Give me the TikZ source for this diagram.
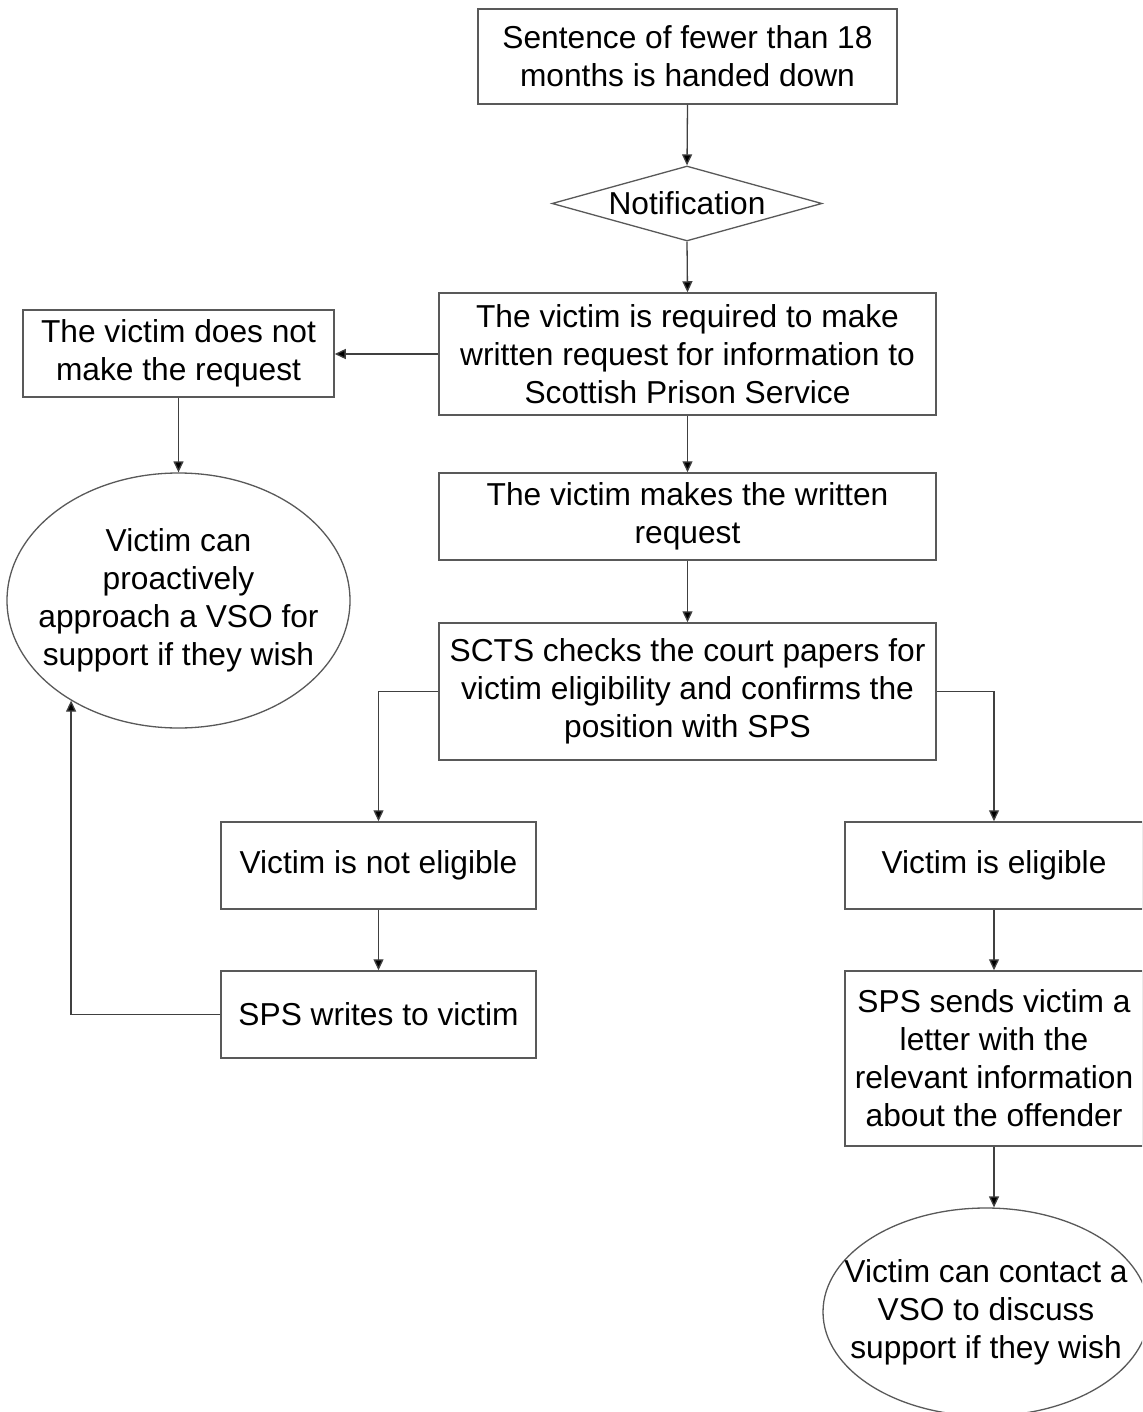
\documentclass[tikz,border=0pt]{standalone}
\usepackage{fontspec}
\setmainfont{Liberation Sans}
\usetikzlibrary{shapes.geometric,arrows.meta}
\begin{document}
\begin{tikzpicture}[x=1pt,y=-1pt,
  every node/.style={font=\fontsize{31.7pt}{38pt}\selectfont, align=center, inner sep=0pt},
  stepbox/.style={draw=black!65, line width=1.5pt, rectangle},
  oval/.style={draw=black!65, line width=1.3pt, ellipse},
  decision/.style={draw=black!65, line width=1.3pt, diamond},
  conn/.style={draw=black!75, line width=1.3pt, -{Triangle[length=11pt,width=10pt,fill=black]}}
]
\useasboundingbox (0,0) rectangle (1142,1412);
\clip (0,0) rectangle (1142,1412);
\fill[white] (0,0) rectangle (1142,1412);

\node[stepbox, minimum width=419pt, minimum height=95pt] (sent) at (687.5,56.5)
  {Sentence of fewer than 18\\months is handed down};
\node[decision, minimum width=270pt, minimum height=75pt] (notif) at (687,203.5)
  {\makebox[0pt]{Notification}};
\node[stepbox, minimum width=497pt, minimum height=122pt] (req) at (687.5,354)
  {The victim is required to make\\written request for information to\\Scottish Prison Service};
\node[stepbox, minimum width=311pt, minimum height=87pt] (dn) at (178.5,353.5)
  {The victim does not\\make the request};
\node[oval, minimum width=343pt, minimum height=255pt] (ellL) at (178.5,600.5)
  {\makebox[0pt]{\parbox{320pt}{\centering Victim can\\proactively\\approach a VSO for\\support if they wish}}};
\node[stepbox, minimum width=497pt, minimum height=87pt] (makes) at (687.5,516.5)
  {The victim makes the written\\request};
\node[stepbox, minimum width=497pt, minimum height=137pt] (scts) at (687.5,691.5)
  {SCTS checks the court papers for\\victim eligibility and confirms the\\position with SPS};
\node[stepbox, minimum width=315pt, minimum height=87pt] (nel) at (378.5,865.5)
  {Victim is not eligible};
\node[stepbox, minimum width=315pt, minimum height=87pt] (spsw) at (378.5,1014.5)
  {SPS writes to victim};
\node[stepbox, minimum width=298pt, minimum height=87pt] (el) at (994,865.5)
  {Victim is eligible};
\node[stepbox, minimum width=298pt, minimum height=175pt] (sends) at (994,1058.5)
  {SPS sends victim a\\letter with the\\relevant information\\about the offender};
\node[oval, minimum width=326pt, minimum height=208pt] (ellR) at (986,1312)
  {\makebox[0pt]{\parbox{320pt}{\centering Victim can contact a\\VSO to discuss\\support if they wish}}};

\draw[conn] (sent.south) -- (notif.north);
\draw[conn] (notif.south) -- (req.north);
\draw[conn] (req.west) -- (req.west -| dn.east);
\draw[conn] (dn.south) -- (ellL.north);
\draw[conn] (req.south) -- (makes.north);
\draw[conn] (makes.south) -- (scts.north);
\draw[conn] (scts.west) -| (nel.north);
\draw[conn] (scts.east) -| (el.north);
\draw[conn] (nel.south) -- (spsw.north);
\draw[conn] (spsw.west) -| (ellL.223.6);
\draw[conn] (el.south) -- (sends.north);
\draw[conn] (sends.south) -- (sends.south |- ellR.north);
\end{tikzpicture}
\end{document}
